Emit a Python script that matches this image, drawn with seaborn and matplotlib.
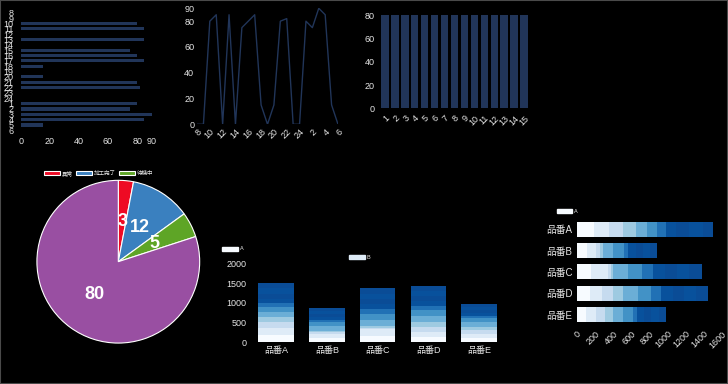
import numpy as np
import pandas as pd
import seaborn as sns
import matplotlib.pyplot as plt
from matplotlib.patches import Patch, Rectangle

# 時間帯データ (上段の3つ)
hours = ['8', '9', '10', '11', '12', '13', '14', '15', '16', '17', '18', '19',
         '20', '21', '22', '23', '24', '1', '2', '3', '4', '5', '6']
hour_values = [0, 0, 80, 85, 0, 85, 0, 75, 80, 85, 15, 0,
               15, 80, 82, 0, 0, 80, 75, 90, 85, 15, 0]
bar_labels = [str(i) for i in range(1, 16)]
bar_values = [80, 80, 80, 80, 80, 80, 80, 80, 80, 80, 80, 80, 80, 80, 80]

# 円グラフ
pie_labels = ['異常', '加工完了', '待機中', '稼働中']
pie_values = [3, 12, 5, 80]
pie_colors = ['#ee0a24', '#3a80bf', '#5ea526', '#994fa2']

# 積み上げ棒 (品番ごと)
products = ['品番A', '品番B', '品番C', '品番D', '品番E']
series = ['A', 'B', 'C', 'D', 'E', 'F', 'G', 'H', 'I', 'J', 'K']
stack_A = [194, 110, 158, 146, 102]
stack_B = [165, 102, 190, 128, 107]
stack_C = [154, 44, 26, 128, 102]
stack_D = [139, 37, 30, 109, 84]
stack_E = [124, 110, 165, 165, 117]
stack_F = [113, 116, 146, 139, 110]
stack_G = [99, 49, 120, 118, 37]
stack_H = [102, 80, 135, 127, 82]
stack_I = [144, 80, 135, 127, 82]
stack_J = [153, 80, 135, 127, 81]
stack_K = [113, 72, 135, 127, 81]
stack_colors = ['#f7fbff', '#deebf7', '#c6dbef', '#9ecae1', '#6baed6', '#4292c6',
                '#2171b5', '#08519c', '#0a4c96', '#08519c', '#0a4c96']

navy = '#213559'
txt = '#e6e6e6'

sns.set_theme(style='dark')
plt.rcParams['font.family'] = ['Liberation Sans', 'Noto Sans CJK JP', 'DejaVu Sans']
plt.rcParams['axes.facecolor'] = 'black'
plt.rcParams['figure.facecolor'] = 'black'

fig = plt.figure(figsize=(7.28, 3.84), dpi=100)
W, H = 728, 384


def box(x0, y0, x1, y1):
    return fig.add_axes([x0 / W, 1 - y1 / H, (x1 - x0) / W, (y1 - y0) / H])


def clean(ax, pad=3, size=6.5):
    for s in ax.spines.values():
        s.set_visible(False)
    ax.grid(False)
    ax.set_xlabel('')
    ax.set_ylabel('')
    ax.tick_params(length=0, pad=pad, labelsize=size, colors=txt)


# 1) 横棒
ax1 = box(20.7, 10, 151.7, 133)
sns.barplot(x=hour_values, y=hours, orient='h', color=navy, saturation=1,
            width=0.6, linewidth=0, ax=ax1)
ax1.set_xlim(0, 90)
ax1.set_xticks([0, 20, 40, 60, 80, 90])
clean(ax1)
ax1.tick_params(axis='y', labelsize=6.5, pad=5)

# 2) 折れ線
ax2 = box(197, 8.3, 338, 124.3)
sns.lineplot(x=np.arange(len(hours)), y=hour_values, color=navy, lw=1, ax=ax2)
ax2.set_xlim(0, len(hours) - 1)
ax2.set_ylim(0, 90)
ax2.set_yticks([0, 20, 40, 60, 80, 90])
ax2.set_xticks(np.arange(0, len(hours), 2))
ax2.set_xticklabels(hours[::2], rotation=45, ha='right', rotation_mode='anchor')
clean(ax2, pad=2)

# 3) 縦棒
ax3 = box(380, 15.3, 529, 108.3)
sns.barplot(x=bar_labels, y=bar_values, color=navy, saturation=1, width=0.75,
            linewidth=0, ax=ax3)
ax3.set_ylim(0, 80)
ax3.set_yticks([0, 20, 40, 60, 80])
plt.setp(ax3.get_xticklabels(), rotation=45, ha='right', rotation_mode='anchor')
clean(ax3, pad=4)

# 4) 円グラフ
ax4 = box(118.3 - 83, 261.7 - 83, 118.3 + 83, 261.7 + 83)
wedges, _, autotexts = ax4.pie(pie_values, colors=pie_colors, startangle=90,
                               counterclock=False, autopct='%.0f', pctdistance=0.5,
                               wedgeprops=dict(edgecolor='white', linewidth=0.8))
for t in autotexts:
    t.set_color('white')
    t.set_fontweight('bold')
    t.set_fontsize(13)
ax4.set_xlim(-1.02, 1.02)
ax4.set_ylim(-1.02, 1.02)
fig.legend(wedges[:3], pie_labels[:3], ncol=3, loc='center left',
           bbox_to_anchor=(44 / W, 1 - 173 / H), frameon=False, fontsize=4,
           labelcolor=txt, handlelength=2.9, handleheight=0.9, handletextpad=0.3,
           columnspacing=0.6, borderpad=0, borderaxespad=0)

# 積み上げ用データ (累積を大きい方から重ねる)
stack = pd.DataFrame({'A': stack_A, 'B': stack_B, 'C': stack_C, 'D': stack_D,
                      'E': stack_E, 'F': stack_F, 'G': stack_G, 'H': stack_H,
                      'I': stack_I, 'J': stack_J, 'K': stack_K}, index=products)
cum = stack.cumsum(axis=1).reset_index(names='product').melt(
    id_vars='product', var_name='series', value_name='cum')
pal = dict(zip(series, stack_colors))

# 5) 縦積み上げ
ax5 = box(250.8, 263.7, 504.3, 342.3)
sns.barplot(data=cum, x='product', y='cum', hue='series', hue_order=series[::-1],
            palette=pal, dodge=False, width=0.7, saturation=1, legend=False,
            linewidth=0, ax=ax5)
ax5.set_ylim(0, 2000)
ax5.set_yticks([0, 500, 1000, 1500, 2000])
clean(ax5, pad=3)
leg_kw = dict(frameon=False, fontsize=4, labelcolor=txt, handlelength=2.8,
              handleheight=0.75, handletextpad=0.4, borderpad=0, borderaxespad=0)
fig.legend([Patch(color=stack_colors[0])], ['A'], loc='center left',
           bbox_to_anchor=(222 / W, 1 - 249 / H), **leg_kw)
fig.legend([Patch(color=stack_colors[1])], ['B'], loc='center left',
           bbox_to_anchor=(349 / W, 1 - 257.3 / H), **leg_kw)

# 6) 横積み上げ
ax6 = box(576.7, 218.5, 722, 325.2)
sns.barplot(data=cum, y='product', x='cum', hue='series', hue_order=series[::-1],
            palette=pal, dodge=False, width=0.7, saturation=1, legend=False,
            orient='h', linewidth=0, ax=ax6)
ax6.set_xlim(0, 1600)
ax6.set_xticks(range(0, 1601, 200))
plt.setp(ax6.get_xticklabels(), rotation=45, ha='right', rotation_mode='anchor')
clean(ax6, pad=3)
ax6.tick_params(axis='y', labelsize=7)
fig.legend([Patch(color=stack_colors[0])], ['A'], loc='center left',
           bbox_to_anchor=(556.7 / W, 1 - 211.7 / H), **leg_kw)

fig.add_artist(Rectangle((0, 0), 1, 1, transform=fig.transFigure, fill=False,
                         edgecolor='#4a4a4a', linewidth=1.5))

fig.savefig('out.png', dpi=100, facecolor='black')
